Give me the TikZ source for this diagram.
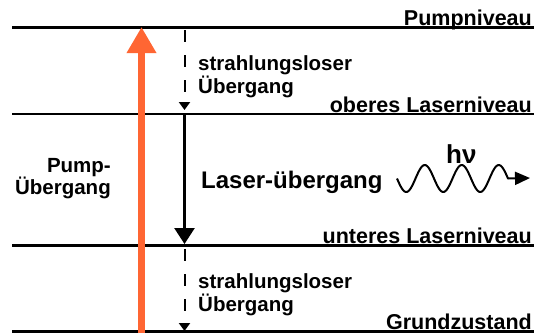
\documentclass[tikz,border=0pt]{standalone}
\usepackage{fontspec}
\setmainfont{Liberation Sans}
\usetikzlibrary{arrows.meta}
\definecolor{pumporange}{HTML}{FF6633}
\begin{document}
\begin{tikzpicture}[x=1pt,y=-1pt,
  level/.style={line width=2.5pt, black},
  lvllbl/.style={font=\fontsize{21.5}{24}\selectfont\bfseries, inner sep=0pt},
  lbl/.style={font=\fontsize{20.5}{23}\selectfont\bfseries, inner sep=0pt},
  biglbl/.style={font=\fontsize{24}{27}\selectfont\bfseries, inner sep=0pt},
  pumparrow/.style={line width=7pt, pumporange, -{Triangle[width=28pt,length=26pt]}},
  dasharrow/.style={line width=2pt, dash pattern=on 12pt off 13pt, -{Triangle[width=11pt,length=8pt]}},
  laserarrow/.style={line width=2.5pt, -{Triangle[width=20pt,length=16pt]}},
  wave/.style={line width=2pt, line join=round, -{Triangle[width=13pt,length=15pt]}}]
\useasboundingbox (0,0) rectangle (534,333);
% levels
\coordinate (l1a) at (12,27.5);  \coordinate (l1b) at (534,27.5);
\coordinate (l2a) at (12,114);   \coordinate (l2b) at (534,114);
\coordinate (l3a) at (12,245.5); \coordinate (l3b) at (534,245.5);
\coordinate (l4a) at (12,331.5); \coordinate (l4b) at (534,331.5);
\draw[level] (l1a) -- (l1b);
\draw[level] (l2a) -- (l2b);
\draw[level] (l3a) -- (l3b);
\draw[level] (l4a) -- (l4b);
% level labels
\node[lvllbl, anchor=base east] (pn) at (532,25.5) {Pumpniveau};
\node[lvllbl, anchor=base east] (ol) at (532,112) {oberes Laserniveau};
\node[lvllbl, anchor=base east] (ul) at (532,243.5) {unteres Laserniveau};
\node[lvllbl, anchor=base east] (gz) at (532,329.5) {Grundzustand};
% pump arrow
\coordinate (pumpS) at (141.5,333);
\coordinate (pumpE) at (141.5,27);
\draw[pumparrow] (pumpS) -- (pumpE);
\node[lbl, anchor=base east] (pu1) at (111,172) {Pump-};
\node[lbl, anchor=base east] (pu2) at (111,194) {Übergang};
% upper radiationless
\coordinate (d1s) at (184.5,30);
\coordinate (d1e) at (184.5,110);
\draw[dasharrow] (d1s) -- (d1e);
\node[lbl, anchor=base west] (s1a) at (198,70) {strahlungsloser};
\node[lbl, anchor=base west] (s1b) at (198,93) {Übergang};
% laser transition
\coordinate (ls) at (184.5,114);
\coordinate (le) at (184.5,244);
\draw[laserarrow] (ls) -- (le);
\node[biglbl, anchor=base west] (lu) at (201,188) {Laser-übergang};
% lower radiationless
\coordinate (d2s) at (184.5,249);
\coordinate (d2e) at (184.5,331);
\draw[dasharrow] (d2s) -- (d2e);
\node[lbl, anchor=base west] (s2a) at (198,288) {strahlungsloser};
\node[lbl, anchor=base west] (s2b) at (198,311) {Übergang};
% photon
\coordinate (wtip) at (530,178);
\draw[wave] plot[domain=397:508, samples=90, smooth] (\x,{178.5+13.5*sin((\x-397)/37*360)}) -- (wtip);
\node[font=\fontsize{26}{28}\selectfont\bfseries, inner sep=0pt, anchor=base west] (hv) at (446,163) {hν};
\end{tikzpicture}
\end{document}
